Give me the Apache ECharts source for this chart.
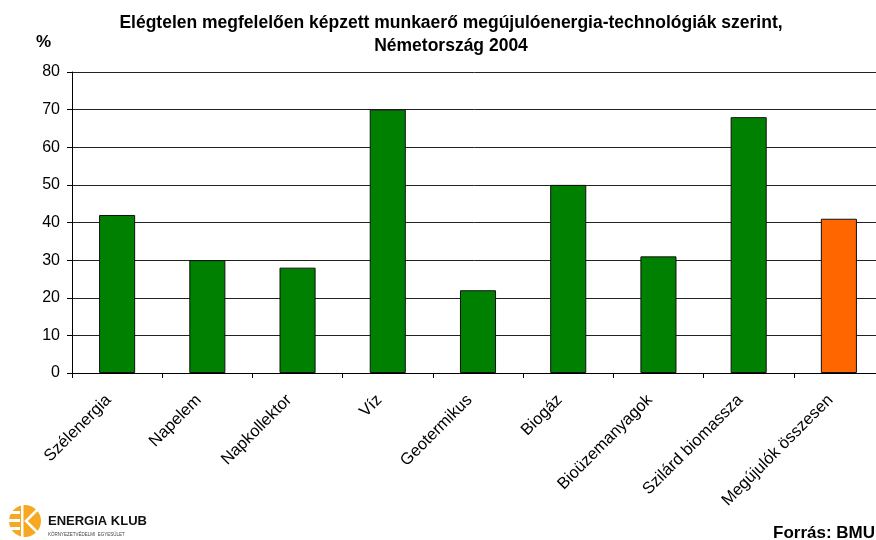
<!DOCTYPE html>
<html>
<head>
<meta charset="utf-8">
<script src="https://cdn.jsdelivr.net/npm/echarts@6/dist/echarts.min.js"></script>
<style>
    html, body { margin: 0; padding: 0; background: #fff; }
    #chart { width: 876px; height: 540px; }
</style>
</head>
<body>
<div id="chart"></div>
<script>
"use strict";

var categories = ["Szélenergia", "Napelem", "Napkollektor", "Víz", "Geotermikus", "Biogáz", "Bioüzemanyagok", "Szilárd biomassza", "Megújulók összesen"];
var shares = [42, 30, 28, 70, 22, 50, 31, 68, 41];
var barColors = ["#008000", "#008000", "#008000", "#008000", "#008000", "#008000", "#008000", "#008000", "#FF6600"];
var titleLines = ["Elégtelen megfelelően képzett munkaerő megújulóenergia-technológiák szerint,", "Németország 2004"];

var font = "Arial, 'Liberation Sans', sans-serif";
var chart = echarts.init(document.getElementById("chart"));

var data = shares.map(function(v, i) {
    return { value: v, itemStyle: { color: barColors[i] } };
});

var option = {
    backgroundColor: "#fff",
    animation: false,
    title: {
        text: titleLines.join("\n"),
        left: 446,
        top: 7,
        textAlign: "center",
        textStyle: { fontFamily: font, fontSize: 17.5, fontWeight: "bold", color: "#000", lineHeight: 23 }
    },
    // plot runs a little past the right edge, as in the original
    grid: { left: 72, top: 72, width: 812, height: 301, containLabel: false, outerBoundsMode: "none" },
    xAxis: {
        type: "category",
        data: categories,
        axisLine: { lineStyle: { color: "#000", width: 1 } },
        axisTick: { show: true, length: 5, lineStyle: { color: "#000" } },
        axisLabel: { rotate: 45, fontFamily: font, fontSize: 16.5, color: "#000", margin: 16, interval: 0, padding: [0, 12, 0, 0] }
    },
    yAxis: {
        type: "value",
        min: 0,
        max: 80,
        interval: 10,
        axisLine: { show: true, lineStyle: { color: "#000", width: 1 } },
        axisTick: { show: true, length: 5, lineStyle: { color: "#000" } },
        axisLabel: { fontFamily: font, fontSize: 16, color: "#000", margin: 12 },
        splitLine: { show: true, lineStyle: { color: "#222", width: 1 } }
    },
    series: [{
        type: "bar",
        data: data,
        barWidth: "40%",
        itemStyle: { borderColor: "#111", borderWidth: 1 }
    }],
    graphic: [
        { type: "text", left: 36, top: 34, style: { text: "%", font: "bold 17px " + font, fill: "#000" } },
        { type: "text", right: 1, top: 525, style: { text: "Forrás: BMU", font: "bold 17px " + font, fill: "#000" } },
        // logo
        { type: "circle", shape: { cx: 25, cy: 521, r: 16 }, style: { fill: "#F7A823" } },
        { type: "rect", shape: { x: 9, y: 511, width: 11, height: 3 }, style: { fill: "#fff" } },
        { type: "rect", shape: { x: 9, y: 519, width: 11, height: 3 }, style: { fill: "#fff" } },
        { type: "rect", shape: { x: 9, y: 527, width: 11, height: 3 }, style: { fill: "#fff" } },
        { type: "rect", shape: { x: 21, y: 505, width: 2.5, height: 32 }, style: { fill: "#fff" } },
        { type: "polyline", shape: { points: [[42, 505], [26, 521], [42, 537]] }, style: { stroke: "#fff", lineWidth: 2.5, fill: null } },
        { type: "text", left: 48, top: 515, style: { text: "ENERGIA KLUB", font: "900 13px " + font, fill: "#111" } },
        { type: "text", left: 48, top: 532, style: { text: "KÖRNYEZETVÉDELMI  EGYESÜLET", font: "4.5px " + font, fill: "#444" } }
    ]
};

chart.setOption(option);
</script>
</body>
</html>
